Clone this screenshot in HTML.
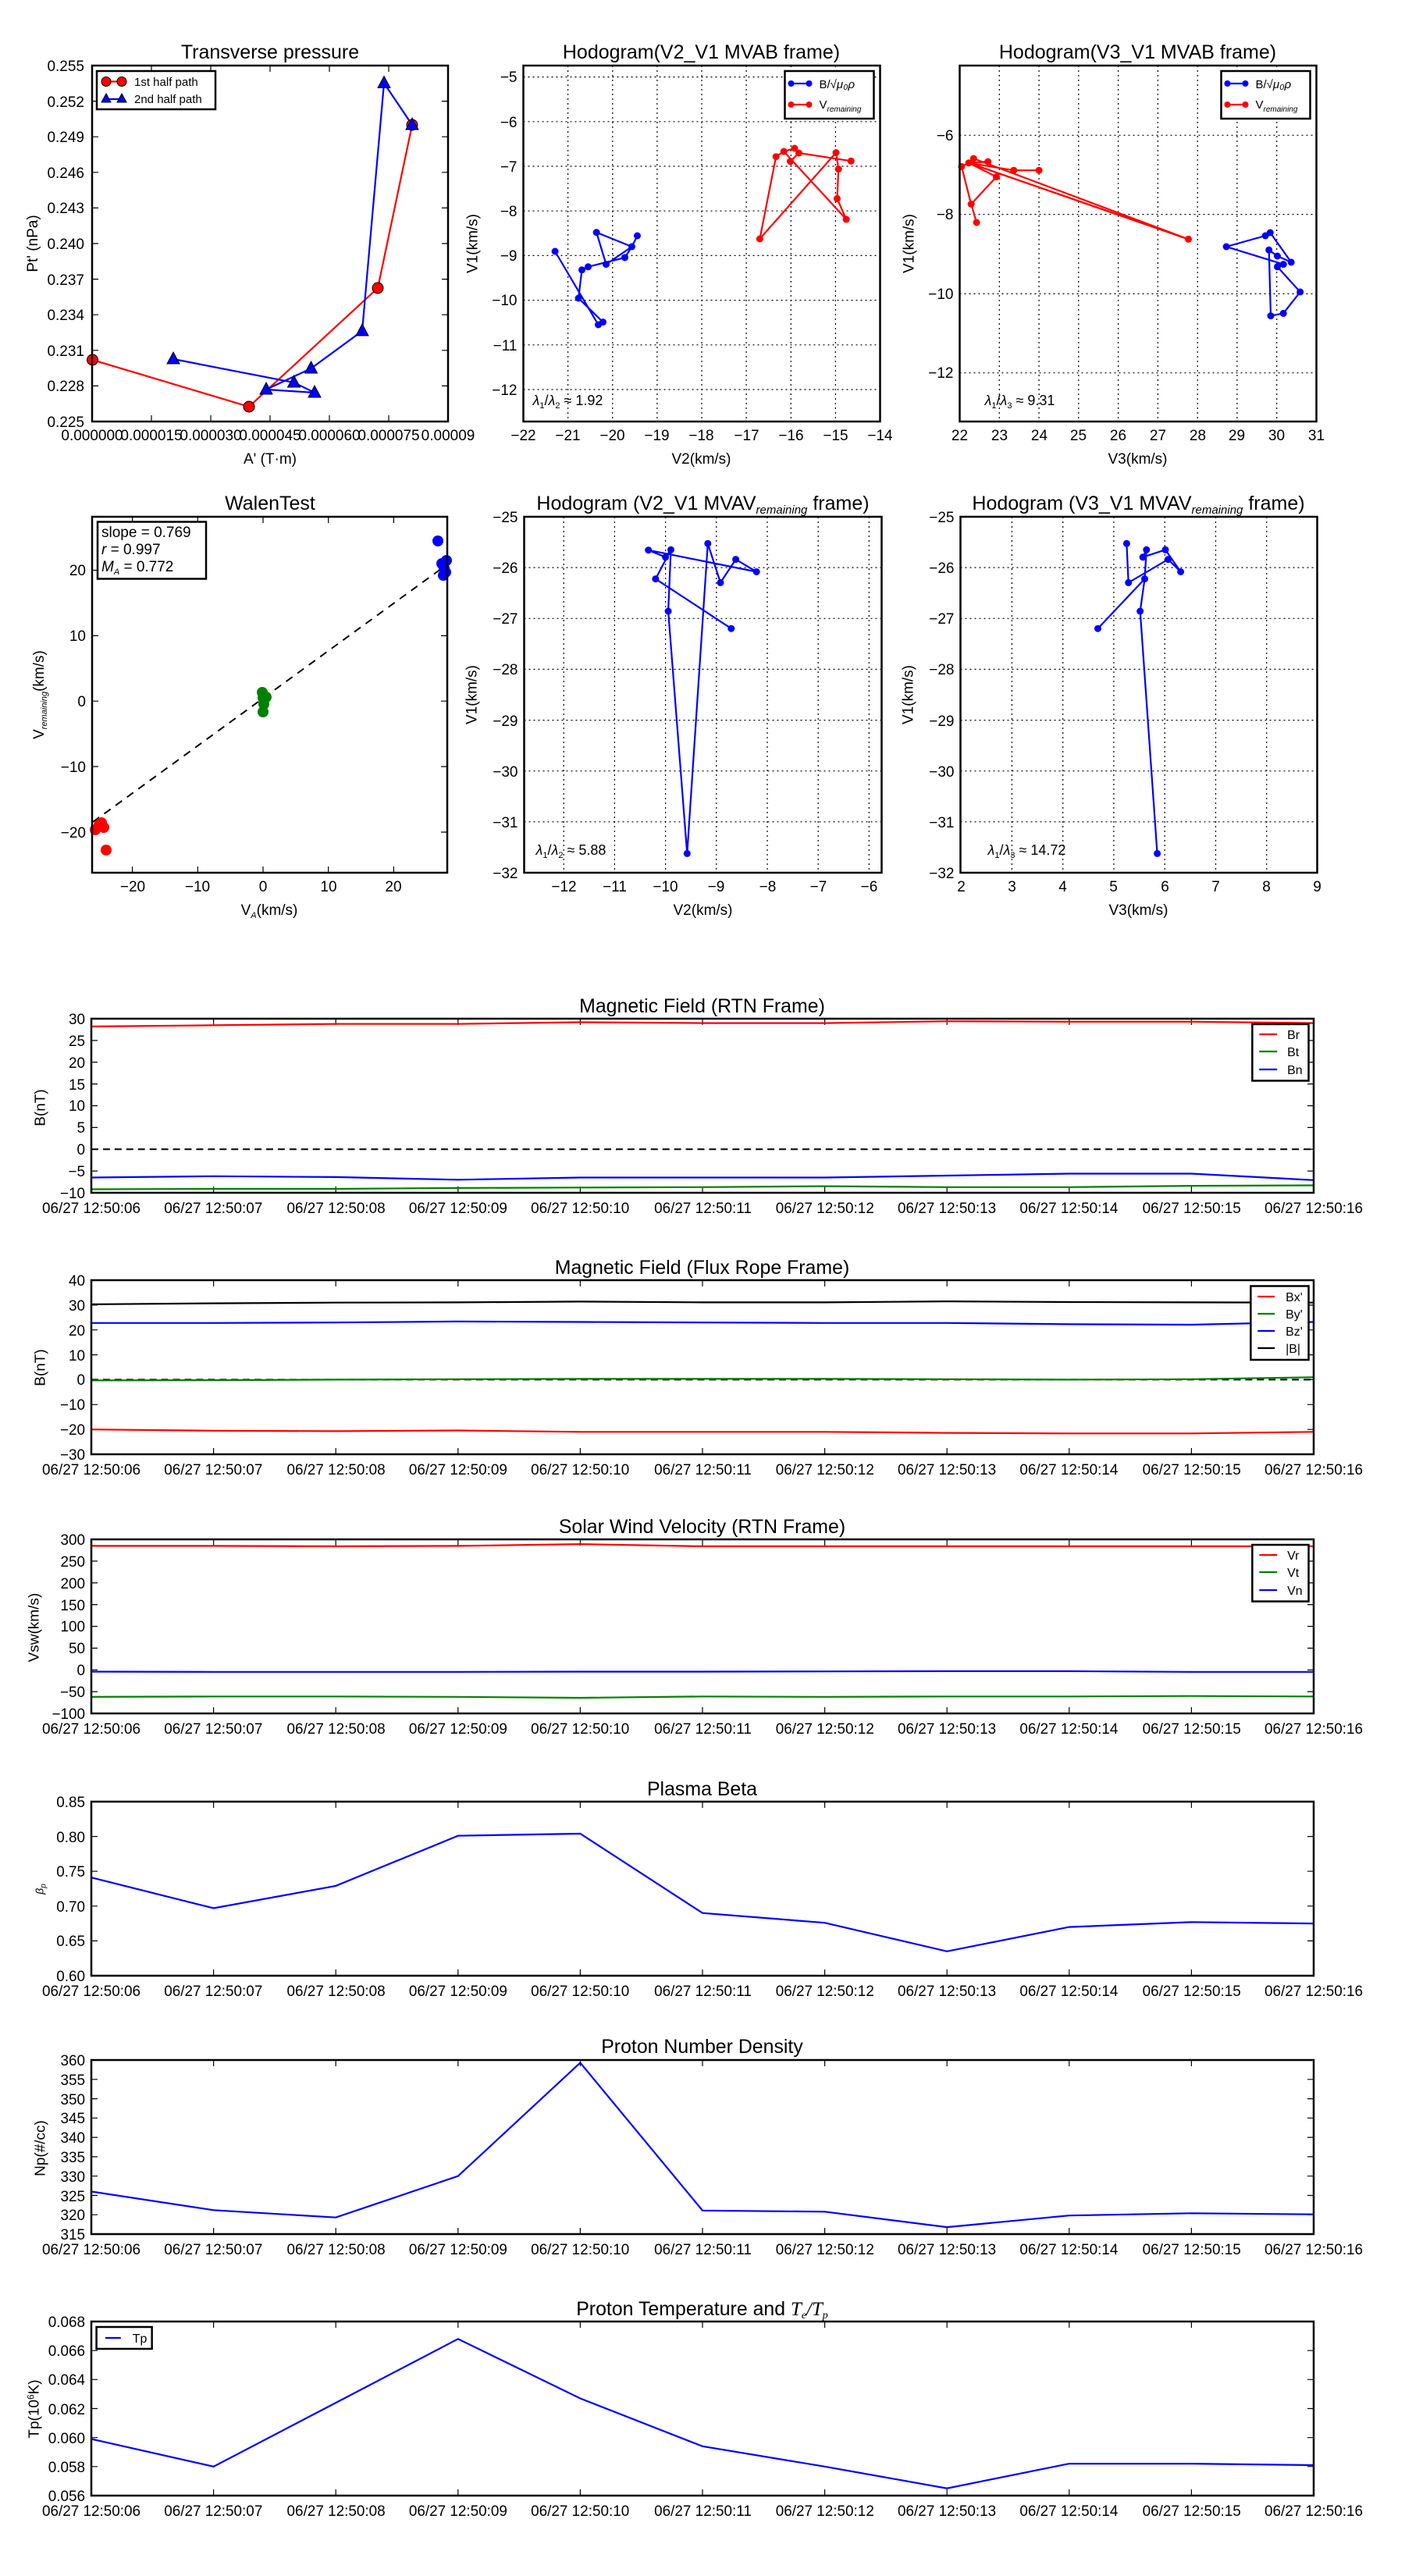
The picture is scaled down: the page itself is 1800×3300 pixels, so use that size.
<!DOCTYPE html>
<html><head><meta charset="utf-8"><style>
html,body{margin:0;padding:0;background:#fff}
svg{display:block}
text{font-family:"Liberation Sans",sans-serif;fill:#000}
.t{font-size:25px;text-anchor:middle}
.tk{font-size:19px}
.xl{font-size:19px;text-anchor:middle}
.yl{font-size:19px;text-anchor:end}
.ax{fill:none;stroke:#000;stroke-width:2.5}
.tm{fill:none;stroke:#000;stroke-width:1.2}
.gr{fill:none;stroke:#000;stroke-width:1.2;stroke-dasharray:2,4}
.b{fill:none;stroke:#0000ff;stroke-width:2.2}
.r{fill:none;stroke:#ff0000;stroke-width:2.2}
.g{fill:none;stroke:#008000;stroke-width:2.2}
.k{fill:none;stroke:#000;stroke-width:2.2}
.lg{fill:#fff;stroke:#000;stroke-width:2.5}
</style></head><body>
<svg width="1800" height="3300" viewBox="0 0 1800 3300" xmlns="http://www.w3.org/2000/svg">
<rect width="1800" height="3300" fill="#fff"/>

<!-- ============ Panel 1: Transverse pressure ============ -->
<text class="t" x="346" y="75">Transverse pressure</text>
<path class="tm" d="M118 540v-8M194 540v-8M270 540v-8M346 540v-8M422 540v-8M498 540v-8M574 540v-8M118 84v8M194 84v8M270 84v8M346 84v8M422 84v8M498 84v8M574 84v8
M118 494.4h8M118 448.8h8M118 403.2h8M118 357.6h8M118 312h8M118 266.4h8M118 220.8h8M118 175.2h8M118 129.6h8
M574 494.4h-8M574 448.8h-8M574 403.2h-8M574 357.6h-8M574 312h-8M574 266.4h-8M574 220.8h-8M574 175.2h-8M574 129.6h-8"/>
<polyline class="r" points="118.5,461 319,521 484,369 528,160"/>
<polyline class="b" points="222,460 376.5,490 403,503 341,499 398.5,472 464,424 492,106.5 528,160"/>
<g fill="#ff0000" stroke="#000" stroke-width="1"><circle cx="118.5" cy="461" r="7"/><circle cx="319" cy="521" r="7"/><circle cx="484" cy="369" r="7"/><circle cx="528" cy="160" r="7"/></g>
<g fill="#0000ff" stroke="#000" stroke-width="1">
<polygon points="222,451 230,466 214,466"/><polygon points="341,490 349,505 333,505"/><polygon points="376.5,481 384.5,496 368.5,496"/><polygon points="403,494 411,509 395,509"/><polygon points="398.5,463 406.5,478 390.5,478"/><polygon points="464,415 472,430 456,430"/><polygon points="492,97.5 500,112.5 484,112.5"/><polygon points="528,151 536,166 520,166"/></g>
<rect class="ax" x="118" y="84" width="456" height="456"/>
<rect class="lg" x="124" y="91" width="152" height="49"/>
<line class="r" x1="136" y1="104.5" x2="156" y2="104.5"/>
<circle cx="136" cy="104.5" r="6" fill="#f00" stroke="#000"/><circle cx="156" cy="104.5" r="6" fill="#f00" stroke="#000"/>
<line class="b" x1="136" y1="127" x2="156" y2="127"/>
<polygon points="136,120 142,131 130,131" fill="#00f" stroke="#000"/><polygon points="156,120 162,131 150,131" fill="#00f" stroke="#000"/>
<text x="172" y="110" style="font-size:15px">1st half path</text>
<text x="172" y="132" style="font-size:15px">2nd half path</text>
<g class="tk" text-anchor="end">
<text x="108" y="547">0.225</text><text x="108" y="501">0.228</text><text x="108" y="456">0.231</text><text x="108" y="410">0.234</text><text x="108" y="365">0.237</text><text x="108" y="319">0.240</text><text x="108" y="273">0.243</text><text x="108" y="228">0.246</text><text x="108" y="182">0.249</text><text x="108" y="137">0.252</text><text x="108" y="91">0.255</text></g>
<g class="xl"><text x="118" y="564">0.000000</text><text x="194" y="564">0.000015</text><text x="270" y="564">0.000030</text><text x="346" y="564">0.000045</text><text x="422" y="564">0.000060</text><text x="498" y="564">0.000075</text><text x="574" y="564">0.00009</text></g>
<text class="xl" x="346" y="594">A' (T·m)</text>
<text class="xl" transform="translate(48,312) rotate(-90)">Pt' (nPa)</text>

<g transform="translate(-3.5,0)">
<!-- ============ Panel 2: Hodogram V2_V1 MVAB ============ -->
<text class="t" x="902" y="75">Hodogram(V2_V1 MVAB frame)</text>
<path class="gr" d="M731.1 84V540M788.3 84V540M845.4 84V540M902.5 84V540M959.6 84V540M1016.8 84V540M1073.9 84V540M674 98.6H1131M674 155.8H1131M674 213H1131M674 270.2H1131M674 327.4H1131M674 384.6H1131M674 441.8H1131M674 499H1131"/>
<polyline class="b" points="714.6,322 770,416 776,412.6 744.6,382 749,345.8 757,341.8 804,330 813,316 767.7,297.7 780,338.6 813,316 820,302"/>
<g fill="#00f"><circle cx="714.6" cy="322" r="4.5"/><circle cx="770" cy="416" r="4.5"/><circle cx="776" cy="412.6" r="4.5"/><circle cx="744.6" cy="382" r="4.5"/><circle cx="749" cy="345.8" r="4.5"/><circle cx="757" cy="341.8" r="4.5"/><circle cx="804" cy="330" r="4.5"/><circle cx="813" cy="316" r="4.5"/><circle cx="767.7" cy="297.7" r="4.5"/><circle cx="780" cy="338.6" r="4.5"/><circle cx="820" cy="302" r="4.5"/></g>
<polyline class="r" points="1093.8,206.3 1027,196 1021.5,190 1007.7,194 997.7,200.7 976.9,306 1074.6,195.5 1077.7,216.6 1076,254.4 1087.7,281 1007.7,194"/>
<polyline class="r" points="1016,206.7 1027,196"/>
<g fill="#f00"><circle cx="976.9" cy="306" r="4.5"/><circle cx="997.7" cy="200.7" r="4.5"/><circle cx="1007.7" cy="194" r="4.5"/><circle cx="1021.5" cy="190" r="4.5"/><circle cx="1016" cy="206.7" r="4.5"/><circle cx="1027" cy="196" r="4.5"/><circle cx="1074.6" cy="195.5" r="4.5"/><circle cx="1077.7" cy="216.6" r="4.5"/><circle cx="1076" cy="254.4" r="4.5"/><circle cx="1087.7" cy="281" r="4.5"/><circle cx="1093.8" cy="206.3" r="4.5"/></g>
<rect class="ax" x="674" y="84" width="457" height="456"/>
<rect class="lg" x="1009" y="91" width="114" height="61"/>
<line class="b" x1="1015" y1="107" x2="1042" y2="107"/><circle cx="1017" cy="107" r="4" fill="#00f"/><circle cx="1040" cy="107" r="4" fill="#00f"/>
<line class="r" x1="1015" y1="134" x2="1042" y2="134"/><circle cx="1017" cy="134" r="4" fill="#f00"/><circle cx="1040" cy="134" r="4" fill="#f00"/>
<text x="1053" y="113" style="font-size:15px">B/√<tspan font-style="italic">μ₀ρ</tspan></text>
<text x="1053" y="139" style="font-size:15px">V<tspan font-size="10" font-style="italic" dy="4">remaining</tspan></text>
<g class="yl"><text x="666" y="105">−5</text><text x="666" y="163">−6</text><text x="666" y="220">−7</text><text x="666" y="277">−8</text><text x="666" y="334">−9</text><text x="666" y="391">−10</text><text x="666" y="449">−11</text><text x="666" y="506">−12</text></g>
<g class="xl"><text x="674" y="564">−22</text><text x="731" y="564">−21</text><text x="788" y="564">−20</text><text x="845" y="564">−19</text><text x="902" y="564">−18</text><text x="960" y="564">−17</text><text x="1017" y="564">−16</text><text x="1074" y="564">−15</text><text x="1131" y="564">−14</text></g>
<text class="xl" x="902" y="594">V2(km/s)</text>
<text class="xl" transform="translate(615,312) rotate(-90)">V1(km/s)</text>
<text x="686" y="519" style="font-size:18px"><tspan font-style="italic">λ</tspan><tspan font-size="11" dy="4">1</tspan><tspan dy="-4">/</tspan><tspan font-style="italic">λ</tspan><tspan font-size="11" dy="4">2</tspan><tspan dy="-4"> ≈ 1.92</tspan></text>

<!-- ============ Panel 3: Hodogram V3_V1 MVAB ============ -->
<text class="t" x="1461" y="75">Hodogram(V3_V1 MVAB frame)</text>
<path class="gr" d="M1283.8 84V540M1334.6 84V540M1385.3 84V540M1436.1 84V540M1486.9 84V540M1537.7 84V540M1588.4 84V540M1639.2 84V540M1233 173.3H1690M1233 274.6H1690M1233 376.4H1690M1233 477.7H1690"/>
<polyline class="r" points="1235.4,213.4 1244.6,208.7 1250.8,203.1 1526,306.4 1244.6,208.7 1269.2,207.1 1244.6,208.7 1302.3,218.2 1334.6,218.2"/>
<polyline class="r" points="1244.6,208.7 1526,306.4"/>
<polyline class="r" points="1244.6,208.7 1280,226.6 1247.7,261.5 1254.6,285"/>
<polyline class="r" points="1235.4,213.4 1247.7,261.5"/>
<g fill="#f00"><circle cx="1235.4" cy="213.4" r="4.5"/><circle cx="1244.6" cy="208.7" r="4.5"/><circle cx="1250.8" cy="203.1" r="4.5"/><circle cx="1269.2" cy="207.1" r="4.5"/><circle cx="1302.3" cy="218.2" r="4.5"/><circle cx="1334.6" cy="218.2" r="4.5"/><circle cx="1280" cy="226.6" r="4.5"/><circle cx="1247.7" cy="261.5" r="4.5"/><circle cx="1254.6" cy="285" r="4.5"/><circle cx="1526" cy="306.4" r="4.5"/></g>
<polyline class="b" points="1647.7,338.6 1574.6,316 1624.6,302 1630.8,298 1657.7,335.9 1640,328 1629.2,320.3 1631.5,404.6 1647.7,401.4 1669.2,374 1640,341.8 1647.7,338.6"/>
<g fill="#00f"><circle cx="1574.6" cy="316" r="4.5"/><circle cx="1624.6" cy="302" r="4.5"/><circle cx="1630.8" cy="298" r="4.5"/><circle cx="1657.7" cy="335.9" r="4.5"/><circle cx="1647.7" cy="338.6" r="4.5"/><circle cx="1640" cy="328" r="4.5"/><circle cx="1629.2" cy="320.3" r="4.5"/><circle cx="1640" cy="341.8" r="4.5"/><circle cx="1669.2" cy="374" r="4.5"/><circle cx="1647.7" cy="401.4" r="4.5"/><circle cx="1631.5" cy="404.6" r="4.5"/></g>
<rect class="ax" x="1233" y="84" width="457" height="456"/>
<rect class="lg" x="1568" y="91" width="114" height="61"/>
<line class="b" x1="1574" y1="107" x2="1601" y2="107"/><circle cx="1576" cy="107" r="4" fill="#00f"/><circle cx="1599" cy="107" r="4" fill="#00f"/>
<line class="r" x1="1574" y1="134" x2="1601" y2="134"/><circle cx="1576" cy="134" r="4" fill="#f00"/><circle cx="1599" cy="134" r="4" fill="#f00"/>
<text x="1612" y="113" style="font-size:15px">B/√<tspan font-style="italic">μ₀ρ</tspan></text>
<text x="1612" y="139" style="font-size:15px">V<tspan font-size="10" font-style="italic" dy="4">remaining</tspan></text>
<g class="yl"><text x="1225" y="180">−6</text><text x="1225" y="281">−8</text><text x="1225" y="383">−10</text><text x="1225" y="484">−12</text></g>
<g class="xl"><text x="1233" y="564">22</text><text x="1284" y="564">23</text><text x="1335" y="564">24</text><text x="1385" y="564">25</text><text x="1436" y="564">26</text><text x="1487" y="564">27</text><text x="1538" y="564">28</text><text x="1588" y="564">29</text><text x="1639" y="564">30</text><text x="1690" y="564">31</text></g>
<text class="xl" x="1461" y="594">V3(km/s)</text>
<text class="xl" transform="translate(1174,312) rotate(-90)">V1(km/s)</text>
<text x="1265" y="519" style="font-size:18px"><tspan font-style="italic">λ</tspan><tspan font-size="11" dy="4">1</tspan><tspan dy="-4">/</tspan><tspan font-style="italic">λ</tspan><tspan font-size="11" dy="4">3</tspan><tspan dy="-4"> ≈ 9.31</tspan></text>
</g>

<!-- ============ Row 2: WalenTest ============ -->
<text class="t" x="346" y="653">WalenTest</text>
<path class="tm" d="M169.6 1118v-8M253.3 1118v-8M337 1118v-8M420.7 1118v-8M504.4 1118v-8M169.6 662v8M253.3 662v8M337 662v8M420.7 662v8M504.4 662v8
M118 730.5h8M118 814.4h8M118 898.2h8M118 982h8M118 1066h8M573 730.5h-8M573 814.4h-8M573 898.2h-8M573 982h-8M573 1066h-8"/>
<line x1="119" y1="1053" x2="573" y2="723" stroke="#000" stroke-width="2" stroke-dasharray="10,8"/>
<g fill="#00f"><circle cx="561" cy="693" r="7"/><circle cx="566" cy="722" r="7"/><circle cx="569" cy="728" r="7"/><circle cx="571" cy="733" r="7"/><circle cx="568" cy="737" r="7"/><circle cx="572" cy="718" r="7"/></g>
<g fill="#008000"><circle cx="337" cy="894" r="7"/><circle cx="341" cy="893" r="7"/><circle cx="338" cy="902" r="7"/><circle cx="337" cy="912" r="7"/><circle cx="336" cy="887" r="7"/></g>
<g fill="#f00"><circle cx="127" cy="1057" r="7"/><circle cx="133" cy="1060" r="7"/><circle cx="122" cy="1063" r="7"/><circle cx="136" cy="1089" r="7"/><circle cx="130" cy="1054" r="7"/></g>
<rect class="ax" x="118" y="662" width="455" height="456"/>
<rect class="lg" x="125" y="668.5" width="139" height="73"/>
<text x="130" y="688" style="font-size:19px">slope = 0.769</text>
<text x="130" y="710" style="font-size:19px"><tspan font-style="italic">r</tspan> = 0.997</text>
<text x="130" y="732" style="font-size:19px"><tspan font-style="italic">M</tspan><tspan font-size="11" font-style="italic" dy="4">A</tspan><tspan dy="-4"> = 0.772</tspan></text>
<g class="yl"><text x="110" y="737">20</text><text x="110" y="821">10</text><text x="110" y="905">0</text><text x="110" y="989">−10</text><text x="110" y="1073">−20</text></g>
<g class="xl"><text x="170" y="1142">−20</text><text x="253" y="1142">−10</text><text x="337" y="1142">0</text><text x="421" y="1142">10</text><text x="504" y="1142">20</text></g>
<text class="xl" x="345" y="1172">V<tspan font-size="11" dy="4" font-style="italic">A</tspan><tspan dy="-4">(km/s)</tspan></text>
<text class="xl" transform="translate(56,890) rotate(-90)">V<tspan font-size="11" dy="4" font-style="italic">remaining</tspan><tspan dy="-4">(km/s)</tspan></text>

<g transform="translate(-3.5,0)">
<!-- ============ Row 2: Hodogram V2_V1 MVAV ============ -->
<text class="t" x="904" y="653">Hodogram (V2_V1 MVAV<tspan font-size="15" font-style="italic" dy="5">remaining</tspan><tspan dy="-5"> frame)</tspan></text>
<path class="gr" d="M725.7 662V1118M790.9 662V1118M856.1 662V1118M921.3 662V1118M986.5 662V1118M1051.7 662V1118M1116.9 662V1118M675 727.1H1133M675 792.3H1133M675 857.4H1133M675 922.6H1133M675 987.7H1133M675 1052.8H1133"/>
<polyline class="b" points="940.3,805.2 843.4,741.6 863,704.3 859.6,783 883.8,1093.4 910.3,696.3 926.5,746.4 946.1,716.6 972.7,732.5 834.2,704.7 856.1,713.8 863,704.3"/>
<g fill="#00f"><circle cx="834.2" cy="704.7" r="4.5"/><circle cx="856.1" cy="713.8" r="4.5"/><circle cx="863" cy="704.3" r="4.5"/><circle cx="859.6" cy="783" r="4.5"/><circle cx="883.8" cy="1093.4" r="4.5"/><circle cx="910.3" cy="696.3" r="4.5"/><circle cx="926.5" cy="746.4" r="4.5"/><circle cx="946.1" cy="716.6" r="4.5"/><circle cx="972.7" cy="732.5" r="4.5"/><circle cx="940.3" cy="805.2" r="4.5"/><circle cx="843.4" cy="741.6" r="4.5"/></g>
<rect class="ax" x="675" y="662" width="458" height="456"/>
<g class="yl"><text x="667" y="669">−25</text><text x="667" y="734">−26</text><text x="667" y="799">−27</text><text x="667" y="864">−28</text><text x="667" y="930">−29</text><text x="667" y="995">−30</text><text x="667" y="1060">−31</text><text x="667" y="1125">−32</text></g>
<g class="xl"><text x="726" y="1142">−12</text><text x="791" y="1142">−11</text><text x="856" y="1142">−10</text><text x="921" y="1142">−9</text><text x="987" y="1142">−8</text><text x="1052" y="1142">−7</text><text x="1117" y="1142">−6</text></g>
<text class="xl" x="904" y="1172">V2(km/s)</text>
<text class="xl" transform="translate(614,890) rotate(-90)">V1(km/s)</text>
<text x="690" y="1095" style="font-size:18px"><tspan font-style="italic">λ</tspan><tspan font-size="11" dy="4">1</tspan><tspan dy="-4">/</tspan><tspan font-style="italic">λ</tspan><tspan font-size="11" dy="4">2</tspan><tspan dy="-4"> ≈ 5.88</tspan></text>

<!-- ============ Row 2: Hodogram V3_V1 MVAV ============ -->
<text class="t" x="1462" y="653">Hodogram (V3_V1 MVAV<tspan font-size="15" font-style="italic" dy="5">remaining</tspan><tspan dy="-5"> frame)</tspan></text>
<path class="gr" d="M1299.9 662V1118M1365.2 662V1118M1430.4 662V1118M1495.7 662V1118M1561 662V1118M1626.2 662V1118M1234 727.1H1691M1234 792.3H1691M1234 857.4H1691M1234 922.6H1691M1234 987.7H1691M1234 1052.8H1691"/>
<polyline class="b" points="1446.9,696.3 1449.2,746.4 1500,716.6 1516.1,732.5 1496.5,704.3 1467.6,713.8 1472.3,704.3 1470,741.6 1410,805.2"/>
<polyline class="b" points="1470,741.6 1464.2,783 1486.1,1093.4"/>
<g fill="#00f"><circle cx="1446.9" cy="696.3" r="4.5"/><circle cx="1449.2" cy="746.4" r="4.5"/><circle cx="1467.6" cy="713.8" r="4.5"/><circle cx="1472.3" cy="704.3" r="4.5"/><circle cx="1496.5" cy="704.3" r="4.5"/><circle cx="1500" cy="716.6" r="4.5"/><circle cx="1516.1" cy="732.5" r="4.5"/><circle cx="1470" cy="741.6" r="4.5"/><circle cx="1464.2" cy="783" r="4.5"/><circle cx="1486.1" cy="1093.4" r="4.5"/><circle cx="1410" cy="805.2" r="4.5"/></g>
<rect class="ax" x="1234" y="662" width="457" height="456"/>
<g class="yl"><text x="1226" y="669">−25</text><text x="1226" y="734">−26</text><text x="1226" y="799">−27</text><text x="1226" y="864">−28</text><text x="1226" y="930">−29</text><text x="1226" y="995">−30</text><text x="1226" y="1060">−31</text><text x="1226" y="1125">−32</text></g>
<g class="xl"><text x="1235" y="1142">2</text><text x="1300" y="1142">3</text><text x="1365" y="1142">4</text><text x="1430" y="1142">5</text><text x="1496" y="1142">6</text><text x="1561" y="1142">7</text><text x="1626" y="1142">8</text><text x="1691" y="1142">9</text></g>
<text class="xl" x="1462" y="1172">V3(km/s)</text>
<text class="xl" transform="translate(1173,890) rotate(-90)">V1(km/s)</text>
<text x="1269" y="1095" style="font-size:18px"><tspan font-style="italic">λ</tspan><tspan font-size="11" dy="4">1</tspan><tspan dy="-4">/</tspan><tspan font-style="italic">λ</tspan><tspan font-size="11" dy="4">3</tspan><tspan dy="-4"> ≈ 14.72</tspan></text>
</g>

<g transform="matrix(0.99555 0 0 1 -0.475 0)">
<!-- RTN -->
<text class="t" x="904" y="1297">Magnetic Field (RTN Frame)</text>
<path class="tm" d="M275.3 1528v-8M432.6 1528v-8M589.9 1528v-8M747.2 1528v-8M904.5 1528v-8M1061.8 1528v-8M1219.1 1528v-8M1376.4 1528v-8M1533.7 1528v-8M275.3 1305v8M432.6 1305v8M589.9 1305v8M747.2 1305v8M904.5 1305v8M1061.8 1305v8M1219.1 1305v8M1376.4 1305v8M1533.7 1305v8
M118 1332.9h8M118 1360.75h8M118 1388.6h8M118 1416.5h8M118 1444.4h8M118 1472.25h8M118 1500.1h8M1691 1332.9h-8M1691 1360.75h-8M1691 1388.6h-8M1691 1416.5h-8M1691 1444.4h-8M1691 1472.25h-8M1691 1500.1h-8"/>
<line x1="118" y1="1472.25" x2="1691" y2="1472.25" stroke="#000" stroke-width="2" stroke-dasharray="9,6"/>
<polyline class="r" points="118,1315 275.3,1313.4 432.6,1311.7 589.9,1311.7 747.2,1309.5 904.5,1310.6 1061.8,1310.6 1219.1,1308.3 1376.4,1308.9 1533.7,1308.9 1691,1310.6"/>
<polyline class="g" points="118,1523.5 275.3,1523 432.6,1523 589.9,1521.9 747.2,1521.3 904.5,1520.8 1061.8,1519.6 1219.1,1520.8 1376.4,1520.8 1533.7,1519.1 1691,1518.5"/>
<polyline class="b" points="118,1508.5 275.3,1506.8 432.6,1507.9 589.9,1511.3 747.2,1508.5 904.5,1508.5 1061.8,1508.5 1219.1,1506 1376.4,1503.5 1533.7,1503.5 1691,1511.8"/>
<rect class="ax" x="118" y="1305" width="1573" height="223"/>
<rect class="lg" x="1612" y="1312" width="72.5" height="72.5"/>
<line class="r" x1="1621" y1="1325" x2="1644" y2="1325"/><line class="g" x1="1621" y1="1347" x2="1644" y2="1347"/><line class="b" x1="1621" y1="1370" x2="1644" y2="1370"/>
<text x="1657" y="1331" style="font-size:16px">Br</text><text x="1657" y="1353" style="font-size:16px">Bt</text><text x="1657" y="1376" style="font-size:16px">Bn</text>
<g class="yl"><text x="110" y="1312">30</text><text x="110" y="1340">25</text><text x="110" y="1368">20</text><text x="110" y="1396">15</text><text x="110" y="1423">10</text><text x="110" y="1451">5</text><text x="110" y="1479">0</text><text x="110" y="1507">−5</text><text x="110" y="1535">−10</text></g>
<g class="xl"><text x="118" y="1554">06/27 12:50:06</text><text x="275" y="1554">06/27 12:50:07</text><text x="433" y="1554">06/27 12:50:08</text><text x="590" y="1554">06/27 12:50:09</text><text x="747" y="1554">06/27 12:50:10</text><text x="905" y="1554">06/27 12:50:11</text><text x="1062" y="1554">06/27 12:50:12</text><text x="1219" y="1554">06/27 12:50:13</text><text x="1376" y="1554">06/27 12:50:14</text><text x="1534" y="1554">06/27 12:50:15</text><text x="1691" y="1554">06/27 12:50:16</text></g>
<text class="xl" transform="translate(58,1419) rotate(-90)">B(nT)</text>

<!-- Flux rope -->
<text class="t" x="904" y="1632">Magnetic Field (Flux Rope Frame)</text>
<path class="tm" d="M275.3 1863v-8M432.6 1863v-8M589.9 1863v-8M747.2 1863v-8M904.5 1863v-8M1061.8 1863v-8M1219.1 1863v-8M1376.4 1863v-8M1533.7 1863v-8M275.3 1640v8M432.6 1640v8M589.9 1640v8M747.2 1640v8M904.5 1640v8M1061.8 1640v8M1219.1 1640v8M1376.4 1640v8M1533.7 1640v8
M118 1671.9h8M118 1703.7h8M118 1735.6h8M118 1767.4h8M118 1799.3h8M118 1831.2h8M1691 1671.9h-8M1691 1703.7h-8M1691 1735.6h-8M1691 1767.4h-8M1691 1799.3h-8M1691 1831.2h-8"/>
<line x1="118" y1="1767.4" x2="1691" y2="1767.4" stroke="#000" stroke-width="2" stroke-dasharray="9,6"/>
<polyline class="r" points="118,1831.2 275.3,1832.8 432.6,1833.4 589.9,1832.5 747.2,1834.3 904.5,1834.3 1061.8,1834.3 1219.1,1835.6 1376.4,1836.3 1533.7,1836.3 1691,1834.3"/>
<polyline class="g" points="118,1768.4 275.3,1768.1 432.6,1767.4 589.9,1766.8 747.2,1766.4 904.5,1766.4 1061.8,1766.4 1219.1,1766.8 1376.4,1767.4 1533.7,1766.8 1691,1764.3"/>
<polyline class="b" points="118,1694.8 275.3,1694.8 432.6,1694.2 589.9,1692.9 747.2,1693.5 904.5,1694.2 1061.8,1694.8 1219.1,1694.8 1376.4,1696.4 1533.7,1697 1691,1693.5"/>
<polyline class="k" points="118,1670.9 275.3,1669.6 432.6,1668.7 589.9,1668.4 747.2,1667.4 904.5,1668.4 1061.8,1668.4 1219.1,1667.1 1376.4,1668 1533.7,1668.4 1691,1668.7"/>
<rect class="ax" x="118" y="1640" width="1573" height="223"/>
<rect class="lg" x="1610" y="1647.5" width="74.5" height="94.5"/>
<line class="r" x1="1619" y1="1661" x2="1641" y2="1661"/><line class="g" x1="1619" y1="1683" x2="1641" y2="1683"/><line class="b" x1="1619" y1="1705" x2="1641" y2="1705"/><line class="k" x1="1619" y1="1727" x2="1641" y2="1727"/>
<text x="1655" y="1667" style="font-size:16px">Bx'</text><text x="1655" y="1689" style="font-size:16px">By'</text><text x="1655" y="1711" style="font-size:16px">Bz'</text><text x="1655" y="1733" style="font-size:16px">|B|</text>
<g class="yl"><text x="110" y="1647">40</text><text x="110" y="1679">30</text><text x="110" y="1711">20</text><text x="110" y="1743">10</text><text x="110" y="1774">0</text><text x="110" y="1806">−10</text><text x="110" y="1838">−20</text><text x="110" y="1870">−30</text></g>
<g class="xl"><text x="118" y="1889">06/27 12:50:06</text><text x="275" y="1889">06/27 12:50:07</text><text x="433" y="1889">06/27 12:50:08</text><text x="590" y="1889">06/27 12:50:09</text><text x="747" y="1889">06/27 12:50:10</text><text x="905" y="1889">06/27 12:50:11</text><text x="1062" y="1889">06/27 12:50:12</text><text x="1219" y="1889">06/27 12:50:13</text><text x="1376" y="1889">06/27 12:50:14</text><text x="1534" y="1889">06/27 12:50:15</text><text x="1691" y="1889">06/27 12:50:16</text></g>
<text class="xl" transform="translate(58,1752) rotate(-90)">B(nT)</text>

<!-- Solar wind -->
<text class="t" x="904" y="1964">Solar Wind Velocity (RTN Frame)</text>
<path class="tm" d="M275.3 2195v-8M432.6 2195v-8M589.9 2195v-8M747.2 2195v-8M904.5 2195v-8M1061.8 2195v-8M1219.1 2195v-8M1376.4 2195v-8M1533.7 2195v-8M275.3 1972v8M432.6 1972v8M589.9 1972v8M747.2 1972v8M904.5 1972v8M1061.8 1972v8M1219.1 1972v8M1376.4 1972v8M1533.7 1972v8
M118 1999.9h8M118 2027.75h8M118 2055.6h8M118 2083.5h8M118 2111.4h8M118 2139.25h8M118 2167.1h8M1691 1999.9h-8M1691 2027.75h-8M1691 2055.6h-8M1691 2083.5h-8M1691 2111.4h-8M1691 2139.25h-8M1691 2167.1h-8"/>
<polyline class="r" points="118,1980.4 275.3,1980.4 432.6,1980.9 589.9,1980.4 747.2,1978.1 904.5,1980.9 1061.8,1980.9 1219.1,1980.9 1376.4,1980.9 1533.7,1980.9 1691,1980.9"/>
<polyline class="g" points="118,2173.8 275.3,2173.3 432.6,2173.3 589.9,2173.8 747.2,2175 904.5,2173.3 1061.8,2173.8 1219.1,2173.3 1376.4,2173.3 1533.7,2172.7 1691,2173.3"/>
<polyline class="b" points="118,2141.5 275.3,2141.8 432.6,2141.8 589.9,2141.8 747.2,2141.5 904.5,2141.5 1061.8,2141.2 1219.1,2140.9 1376.4,2140.9 1533.7,2141.8 1691,2141.8"/>
<rect class="ax" x="118" y="1972" width="1573" height="223"/>
<rect class="lg" x="1612" y="1979" width="72.5" height="72.5"/>
<line class="r" x1="1621" y1="1992" x2="1644" y2="1992"/><line class="g" x1="1621" y1="2014" x2="1644" y2="2014"/><line class="b" x1="1621" y1="2037" x2="1644" y2="2037"/>
<text x="1657" y="1998" style="font-size:16px">Vr</text><text x="1657" y="2020" style="font-size:16px">Vt</text><text x="1657" y="2043" style="font-size:16px">Vn</text>
<g class="yl"><text x="110" y="1979">300</text><text x="110" y="2007">250</text><text x="110" y="2035">200</text><text x="110" y="2063">150</text><text x="110" y="2090">100</text><text x="110" y="2118">50</text><text x="110" y="2146">0</text><text x="110" y="2174">−50</text><text x="110" y="2202">−100</text></g>
<g class="xl"><text x="118" y="2221">06/27 12:50:06</text><text x="275" y="2221">06/27 12:50:07</text><text x="433" y="2221">06/27 12:50:08</text><text x="590" y="2221">06/27 12:50:09</text><text x="747" y="2221">06/27 12:50:10</text><text x="905" y="2221">06/27 12:50:11</text><text x="1062" y="2221">06/27 12:50:12</text><text x="1219" y="2221">06/27 12:50:13</text><text x="1376" y="2221">06/27 12:50:14</text><text x="1534" y="2221">06/27 12:50:15</text><text x="1691" y="2221">06/27 12:50:16</text></g>
<text class="xl" transform="translate(50,2085) rotate(-90)">Vsw(km/s)</text>

<!-- Plasma beta -->
<text class="t" x="904" y="2300">Plasma Beta</text>
<path class="tm" d="M275.3 2531v-8M432.6 2531v-8M589.9 2531v-8M747.2 2531v-8M904.5 2531v-8M1061.8 2531v-8M1219.1 2531v-8M1376.4 2531v-8M1533.7 2531v-8M275.3 2308v8M432.6 2308v8M589.9 2308v8M747.2 2308v8M904.5 2308v8M1061.8 2308v8M1219.1 2308v8M1376.4 2308v8M1533.7 2308v8
M118 2352.6h8M118 2397.2h8M118 2441.8h8M118 2486.4h8M1691 2352.6h-8M1691 2397.2h-8M1691 2441.8h-8M1691 2486.4h-8"/>
<polyline class="b" points="118,2405.2 275.3,2444.5 432.6,2415.9 589.9,2351.7 747.2,2349 904.5,2450.7 1061.8,2463.2 1219.1,2499.8 1376.4,2468.6 1533.7,2462.3 1691,2464.1"/>
<rect class="ax" x="118" y="2308" width="1573" height="223"/>
<g class="yl"><text x="110" y="2315">0.85</text><text x="110" y="2360">0.80</text><text x="110" y="2404">0.75</text><text x="110" y="2449">0.70</text><text x="110" y="2493">0.65</text><text x="110" y="2538">0.60</text></g>
<g class="xl"><text x="118" y="2557">06/27 12:50:06</text><text x="275" y="2557">06/27 12:50:07</text><text x="433" y="2557">06/27 12:50:08</text><text x="590" y="2557">06/27 12:50:09</text><text x="747" y="2557">06/27 12:50:10</text><text x="905" y="2557">06/27 12:50:11</text><text x="1062" y="2557">06/27 12:50:12</text><text x="1219" y="2557">06/27 12:50:13</text><text x="1376" y="2557">06/27 12:50:14</text><text x="1534" y="2557">06/27 12:50:15</text><text x="1691" y="2557">06/27 12:50:16</text></g>
<text transform="translate(56,2420) rotate(-90)" style="font-size:14px;font-style:italic" text-anchor="middle">β<tspan font-size="10" dy="3">p</tspan></text>

<!-- Np -->
<text class="t" x="904" y="2630">Proton Number Density</text>
<path class="tm" d="M275.3 2862v-8M432.6 2862v-8M589.9 2862v-8M747.2 2862v-8M904.5 2862v-8M1061.8 2862v-8M1219.1 2862v-8M1376.4 2862v-8M1533.7 2862v-8M275.3 2639v8M432.6 2639v8M589.9 2639v8M747.2 2639v8M904.5 2639v8M1061.8 2639v8M1219.1 2639v8M1376.4 2639v8M1533.7 2639v8
M118 2663.8h8M118 2688.6h8M118 2713.3h8M118 2738.1h8M118 2762.9h8M118 2787.7h8M118 2812.5h8M118 2837.2h8M1691 2663.8h-8M1691 2688.6h-8M1691 2713.3h-8M1691 2738.1h-8M1691 2762.9h-8M1691 2787.7h-8M1691 2812.5h-8M1691 2837.2h-8"/>
<polyline class="b" points="118,2807.5 275.3,2831.3 432.6,2840.7 589.9,2787.7 747.2,2642.5 904.5,2831.8 1061.8,2833.3 1219.1,2853.1 1376.4,2838.2 1533.7,2835.3 1691,2836.7"/>
<rect class="ax" x="118" y="2639" width="1573" height="223"/>
<g class="yl"><text x="110" y="2646">360</text><text x="110" y="2671">355</text><text x="110" y="2696">350</text><text x="110" y="2720">345</text><text x="110" y="2745">340</text><text x="110" y="2770">335</text><text x="110" y="2795">330</text><text x="110" y="2820">325</text><text x="110" y="2844">320</text><text x="110" y="2869">315</text></g>
<g class="xl"><text x="118" y="2888">06/27 12:50:06</text><text x="275" y="2888">06/27 12:50:07</text><text x="433" y="2888">06/27 12:50:08</text><text x="590" y="2888">06/27 12:50:09</text><text x="747" y="2888">06/27 12:50:10</text><text x="905" y="2888">06/27 12:50:11</text><text x="1062" y="2888">06/27 12:50:12</text><text x="1219" y="2888">06/27 12:50:13</text><text x="1376" y="2888">06/27 12:50:14</text><text x="1534" y="2888">06/27 12:50:15</text><text x="1691" y="2888">06/27 12:50:16</text></g>
<text class="xl" transform="translate(58,2752) rotate(-90)">Np(#/cc)</text>

<!-- Tp -->
<text class="t" x="904" y="2966">Proton Temperature and <tspan font-family="Liberation Serif" font-style="italic">T<tspan font-size="14" dy="4">e</tspan><tspan dy="-4">/T</tspan><tspan font-size="14" dy="4">p</tspan></tspan></text>
<path class="tm" d="M275.3 3197v-8M432.6 3197v-8M589.9 3197v-8M747.2 3197v-8M904.5 3197v-8M1061.8 3197v-8M1219.1 3197v-8M1376.4 3197v-8M1533.7 3197v-8M275.3 2974v8M432.6 2974v8M589.9 2974v8M747.2 2974v8M904.5 2974v8M1061.8 2974v8M1219.1 2974v8M1376.4 2974v8M1533.7 2974v8
M118 3011.2h8M118 3048.3h8M118 3085.5h8M118 3122.7h8M118 3159.8h8M1691 3011.2h-8M1691 3048.3h-8M1691 3085.5h-8M1691 3122.7h-8M1691 3159.8h-8"/>
<polyline class="b" points="118,3124.5 275.3,3159.8 432.6,3078.1 589.9,2996.3 747.2,3072.5 904.5,3133.8 1061.8,3159.8 1219.1,3187.7 1376.4,3156.1 1533.7,3156.1 1691,3158"/>
<rect class="ax" x="118" y="2974" width="1573" height="223"/>
<rect class="lg" x="124.6" y="2981" width="71.4" height="28"/>
<line class="b" x1="136" y1="2995" x2="156" y2="2995"/>
<text x="171" y="3001" style="font-size:16px">Tp</text>
<g class="yl"><text x="110" y="2981">0.068</text><text x="110" y="3018">0.066</text><text x="110" y="3055">0.064</text><text x="110" y="3093">0.062</text><text x="110" y="3130">0.060</text><text x="110" y="3167">0.058</text><text x="110" y="3204">0.056</text></g>
<g class="xl"><text x="118" y="3223">06/27 12:50:06</text><text x="275" y="3223">06/27 12:50:07</text><text x="433" y="3223">06/27 12:50:08</text><text x="590" y="3223">06/27 12:50:09</text><text x="747" y="3223">06/27 12:50:10</text><text x="905" y="3223">06/27 12:50:11</text><text x="1062" y="3223">06/27 12:50:12</text><text x="1219" y="3223">06/27 12:50:13</text><text x="1376" y="3223">06/27 12:50:14</text><text x="1534" y="3223">06/27 12:50:15</text><text x="1691" y="3223">06/27 12:50:16</text></g>
<text class="xl" transform="translate(50,3086) rotate(-90)">Tp(10<tspan font-size="12" dy="-6">6</tspan><tspan dy="6">K)</tspan></text>
</g>
</svg>
</body></html>
